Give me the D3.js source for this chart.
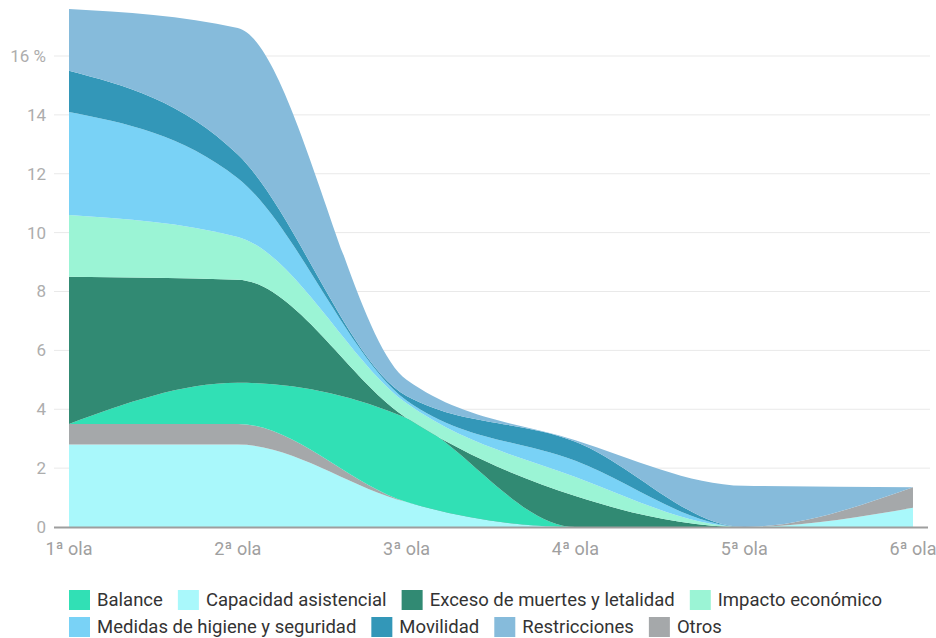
<!DOCTYPE html>
<html>
<head>
<meta charset="utf-8">
<script src="https://cdn.jsdelivr.net/npm/d3@7"></script>
<style>
  body { margin: 0; background: #fff; font-family: Roboto, "Noto Sans", sans-serif; }
</style>
</head>
<body>
<div id="chart"></div>
<script>
let width = 936
let height = 638

// values (percent per wave)
let olas = ["1ª ola", "2ª ola", "3ª ola", "4ª ola", "5ª ola", "6ª ola"]
let capacidad = [2.8, 2.8, 0.85, 0, 0, 0.65]
let otros = [0.7, 0.7, 0, 0, 0, 0.7]
let balance = [0, 1.4, 2.85, 0, 0, 0]
let exceso = [5.0, 3.5, 0, 1.05, 0, 0]
let impacto = [2.1, 1.45, 0.5, 0.65, 0, 0]
let medidas = [3.5, 2.0, 0.1, 0.55, 0, 0]
let movilidad = [1.4, 0.8, 0.15, 0.65, 0, 0]
let restricciones = [2.1, 4.3, 0.55, 0.05, 1.4, 0]
let yTicks = [0, 2, 4, 6, 8, 10, 12, 14, 16]

// stacking order, bottom to top
let series = [
    { key: "Capacidad asistencial", values: capacidad, color: "#a9f8fb" },
    { key: "Otros", values: otros, color: "#a5a8aa" },
    { key: "Balance", values: balance, color: "#31e0b5" },
    { key: "Exceso de muertes y letalidad", values: exceso, color: "#318a73" },
    { key: "Impacto económico", values: impacto, color: "#9bf4d5" },
    { key: "Medidas de higiene y seguridad", values: medidas, color: "#79d2f6" },
    { key: "Movilidad", values: movilidad, color: "#3397b8" },
    { key: "Restricciones", values: restricciones, color: "#86bbdb" }
]
let legendOrder = ["Balance", "Capacidad asistencial", "Exceso de muertes y letalidad", "Impacto económico",
    "Medidas de higiene y seguridad", "Movilidad", "Restricciones", "Otros"]

let table = olas.map((o, i) => {
    let row = { ola: o }
    series.forEach(s => row[s.key] = s.values[i])
    return row
})

let svg = d3.select("#chart").append("svg")
    .attr("width", width)
    .attr("height", height)

let x = d3.scalePoint()
    .domain(olas)
    .range([69, 913])
let y = d3.scaleLinear()
    .domain([0, 16])
    .range([527, 56])

// grid
svg.append("g")
    .selectAll("line")
    .data(yTicks.filter(d => d > 0))
    .join("line")
    .attr("x1", 54)
    .attr("x2", 930)
    .attr("y1", d => y(d))
    .attr("y2", d => y(d))
    .attr("stroke", "#e9e9e9")
    .attr("stroke-width", 1)

svg.append("g")
    .selectAll("text")
    .data(yTicks)
    .join("text")
    .attr("x", 46)
    .attr("y", d => y(d))
    .attr("dy", "0.35em")
    .attr("text-anchor", "end")
    .attr("fill", "#adadad")
    .style("font-size", "17px")
    .text(d => d === 16 ? "16 %" : d)

let stack = d3.stack().keys(series.map(s => s.key))
let layers = stack(table)

let area = d3.area()
    .curve(d3.curveMonotoneX)
    .x(d => x(d.data.ola))
    .y0(d => y(d[0]))
    .y1(d => y(d[1]))

svg.append("g")
    .selectAll("path")
    .data(layers)
    .join("path")
    .attr("d", area)
    .attr("fill", (d, i) => series[i].color)

// baseline
svg.append("line")
    .attr("x1", 54)
    .attr("x2", 928)
    .attr("y1", y(0) + 0.5)
    .attr("y2", y(0) + 0.5)
    .attr("stroke", "#9e9e9e")
    .attr("stroke-width", 2)

svg.append("g")
    .selectAll("text")
    .data(olas)
    .join("text")
    .attr("x", d => x(d))
    .attr("y", 555)
    .attr("text-anchor", "middle")
    .attr("fill", "#a0a0a0")
    .style("font-size", "18px")
    .text(d => d)

// legend, two rows flowing from the left
let rows = [legendOrder.slice(0, 4), legendOrder.slice(4)]
let colorOf = {}
series.forEach(s => colorOf[s.key] = s.color)
rows.forEach((row, r) => {
    let cx = 69
    let cy = 600 + r * 27
    row.forEach(name => {
        let g = svg.append("g").attr("transform", `translate(${cx},${cy})`)
        g.append("rect")
            .attr("x", 0)
            .attr("y", -10)
            .attr("width", 21)
            .attr("height", 20)
            .attr("fill", colorOf[name])
        let t = g.append("text")
            .attr("x", 28)
            .attr("y", 0)
            .attr("dy", "0.35em")
            .attr("fill", "#333")
            .style("font-size", "18.5px")
            .text(name)
        cx += 28 + t.node().getComputedTextLength() + 15
    })
})
</script>
</body>
</html>
